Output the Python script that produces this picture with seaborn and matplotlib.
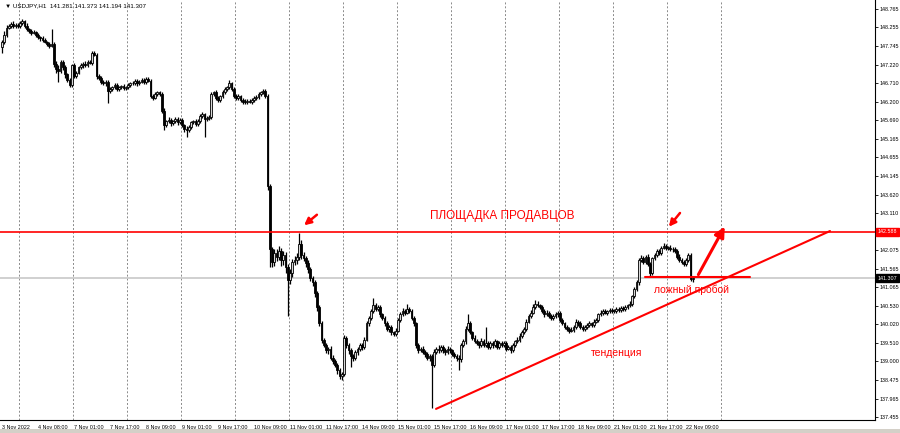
import numpy as np
import pandas as pd
import matplotlib
matplotlib.use('Agg')
import matplotlib.pyplot as plt
import matplotlib.transforms as mtransforms
import seaborn as sns

# USDJPY H1 closes, bar by bar (3 Nov 16:00 .. 22 Nov 12:00)
closes = [
    147.85, 148.05, 148.25, 148.30, 148.35, 148.28, 148.32, 148.30,
    148.38, 148.42, 148.30, 148.20, 148.15, 148.10, 148.12, 148.05,
    147.98, 147.95, 147.90, 147.85, 147.80, 147.75, 147.80, 147.25,
    147.10, 147.05, 147.30, 147.15, 146.95, 146.80, 146.65, 147.20,
    146.90, 147.00, 147.15, 147.20, 147.25, 147.20, 147.30, 147.28,
    147.55, 147.50, 146.90, 146.85, 146.75, 146.70, 146.75, 146.50,
    146.55, 146.60, 146.65, 146.55, 146.60, 146.62, 146.58, 146.60,
    146.65, 146.70, 146.72, 146.78, 146.70, 146.75, 146.80, 146.74,
    146.82, 146.78, 146.35, 146.30, 146.42, 146.45, 146.40, 145.95,
    145.55, 145.65, 145.70, 145.60, 145.65, 145.72, 145.62, 145.68,
    145.55, 145.45, 145.40, 145.50, 145.62, 145.65, 145.58, 145.66,
    145.80, 145.85, 145.72, 145.75, 145.78, 146.40, 146.45, 146.30,
    146.25, 146.35, 146.45, 146.55, 146.60, 146.70, 146.55, 146.35,
    146.30, 146.35, 146.25, 146.20, 146.18, 146.22, 146.20, 146.25,
    146.30, 146.32, 146.40, 146.45, 146.50, 146.35, 143.85, 142.10,
    141.75, 142.00, 141.90, 142.05, 141.80, 141.95, 141.60, 141.25,
    141.45, 141.75, 141.80, 141.90, 142.25, 141.95, 141.85, 141.72,
    141.55, 141.30, 141.20, 140.90, 140.50, 140.05, 139.60, 139.45,
    139.30, 139.35, 139.10, 139.00, 138.90, 138.75, 138.60, 138.65,
    139.65, 139.45, 139.30, 139.15, 139.10, 139.25, 139.35, 139.45,
    139.40, 139.60, 140.05, 140.20, 140.40, 140.55, 140.45, 140.50,
    140.30, 140.20, 140.05, 139.90, 139.95, 139.80, 139.75, 139.85,
    140.15, 140.30, 140.40, 140.35, 140.45, 140.40, 140.20, 140.05,
    139.45, 139.30, 139.35, 139.25, 139.20, 139.10, 139.15, 138.90,
    139.25, 139.35, 139.30, 139.40, 139.30, 139.25, 139.35, 139.30,
    139.20, 139.15, 139.10, 139.05, 139.45, 139.55, 139.90, 140.05,
    139.80, 139.65, 139.55, 139.50, 139.45, 139.55, 139.45, 139.50,
    139.40, 139.50, 139.45, 139.55, 139.40, 139.50, 139.45, 139.50,
    139.35, 139.40, 139.30, 139.45, 139.55, 139.60, 139.70, 139.80,
    139.90, 140.10, 140.25, 140.35, 140.50, 140.60, 140.55, 140.50,
    140.40, 140.30, 140.35, 140.25, 140.20, 140.25, 140.30, 140.35,
    140.15, 140.05, 139.95, 139.90, 139.85, 139.88, 139.95, 140.10,
    140.05, 139.95, 139.90, 139.95, 140.00, 140.05, 140.00, 140.10,
    140.15, 140.30, 140.35, 140.40, 140.35, 140.38, 140.42, 140.40,
    140.40, 140.45, 140.42, 140.48, 140.45, 140.50, 140.55, 140.60,
    140.80, 141.00, 141.20, 141.80, 141.85, 141.75, 141.90, 141.70,
    141.45, 141.85, 141.95, 142.05, 142.00, 142.15, 142.20, 142.15,
    142.15, 142.10, 142.12, 142.05, 141.90, 141.80, 141.75, 141.70,
    141.80, 141.95, 141.281, 141.307,
]
first_open = 147.70

# upper / lower wick beyond the body, per bar
wick_up = [
    .05, .10, .08, .06, .05, .08, .05, .06, .05, .06, .04, .08, .05, .06, .05, .04,
    .05, .04, .06, .05, .04, .05, .40, .06, .08, .10, .05, .06, .05, .04, .06, .05,
    .06, .05, .04, .08, .05, .06, .04, .05, .05, .06, .04, .05, .06, .05, .04, .06,
    .05, .04, .06, .05, .04, .05, .06, .04, .05, .04, .06, .05, .04, .06, .05, .04,
    .06, .05, .04, .06, .05, .04, .05, .06, .08, .05, .06, .04, .05, .06, .04, .05,
    .05, .04, .06, .05, .04, .05, .06, .05, .06, .05, .04, .05, .06, .05, .04, .06,
    .05, .04, .06, .05, .04, .10, .05, .04, .05, .06, .04, .05, .06, .04, .05, .06,
    .04, .05, .06, .04, .05, .04, .05, .06, .08, .10, .12, .15, .10, .12, .08, .10,
    .10, .08, .12, .10, .30, .10, .08, .06, .08, .06, .05, .06, .05, .06, .08, .05,
    .06, .05, .08, .06, .05, .06, .05, .06, .08, .06, .05, .06, .05, .06, .05, .06,
    .05, .06, .08, .05, .06, .20, .06, .05, .06, .05, .06, .08, .05, .06, .05, .06,
    .05, .06, .08, .05, .15, .06, .05, .06, .05, .06, .05, .06, .05, .06, .05, .06,
    .08, .05, .10, .06, .05, .08, .06, .05, .05, .06, .05, .06, .05, .06, .08, .25,
    .06, .05, .08, .06, .05, .10, .06, .45, .05, .06, .05, .08, .05, .06, .05, .06,
    .05, .06, .05, .06, .05, .06, .08, .06, .05, .06, .05, .06, .08, .10, .06, .05,
    .06, .05, .06, .05, .06, .05, .06, .05, .05, .06, .05, .06, .05, .06, .05, .06,
    .05, .06, .05, .06, .05, .06, .05, .06, .06, .05, .06, .05, .06, .05, .06, .05,
    .05, .06, .05, .06, .05, .06, .05, .06, .05, .06, .05, .06, .10, .06, .05, .08,
    .06, .05, .06, .05, .06, .05, .08, .06, .05, .06, .05, .06, .05, .06, .05, .06,
    .06, .05, .06, .066,
]
wick_dn = [
    .15, .05, .06, .05, .06, .05, .04, .05, .05, .06, .05, .04, .06, .05, .04, .06,
    .05, .06, .05, .04, .05, .06, .05, .08, .10, .30, .06, .08, .10, .06, .05, .06,
    .05, .06, .05, .04, .06, .05, .04, .05, .06, .05, .08, .05, .06, .05, .06, .35,
    .06, .05, .04, .06, .05, .04, .05, .06, .05, .06, .04, .05, .06, .05, .04, .05,
    .05, .04, .06, .05, .04, .06, .05, .06, .15, .06, .05, .08, .06, .05, .06, .05,
    .06, .10, .18, .05, .06, .05, .06, .05, .06, .05, .50, .06, .05, .06, .05, .06,
    .05, .06, .05, .04, .06, .05, .06, .05, .05, .06, .05, .06, .05, .06, .05, .06,
    .05, .06, .05, .04, .05, .06, .10, .50, .15, .10, .12, .10, .15, .12, .15, 1.00,
    .10, .12, .08, .10, .10, .12, .08, .10, .10, .08, .10, .12, .10, .08, .10, .06,
    .08, .10, .06, .08, .06, .10, .08, .12, .06, .08, .10, .30, .08, .06, .08, .06,
    .08, .06, .05, .06, .05, .06, .05, .06, .06, .05, .06, .05, .08, .06, .05, .06,
    .05, .06, .05, .06, .05, .06, .05, .06, .08, .06, .05, .06, .08, .06, .10, 1.20,
    .06, .05, .06, .05, .06, .08, .05, .06, .06, .05, .08, .30, .06, .05, .06, .05,
    .05, .06, .05, .06, .08, .05, .06, .05, .06, .05, .08, .05, .06, .05, .06, .05,
    .06, .05, .08, .05, .06, .05, .06, .05, .05, .06, .05, .06, .05, .06, .05, .06,
    .05, .06, .05, .06, .05, .06, .05, .06, .06, .05, .06, .05, .06, .05, .06, .05,
    .06, .05, .06, .05, .06, .05, .06, .05, .05, .06, .05, .06, .05, .06, .05, .06,
    .06, .05, .06, .05, .06, .05, .06, .05, .06, .05, .06, .08, .06, .05, .06, .05,
    .10, .06, .05, .06, .05, .06, .05, .06, .06, .05, .06, .05, .06, .05, .06, .05,
    .05, .06, .06, .087,
]

# axis labels
x_tick_pos = list(range(0, 305, 16))
x_tick_labels = ['3 Nov 2022', '4 Nov 08:00', '7 Nov 01:00', '7 Nov 17:00', '8 Nov 09:00',
                 '9 Nov 01:00', '9 Nov 17:00', '10 Nov 09:00', '11 Nov 01:00', '11 Nov 17:00',
                 '14 Nov 09:00', '15 Nov 01:00', '15 Nov 17:00', '16 Nov 09:00', '17 Nov 01:00',
                 '17 Nov 17:00', '18 Nov 09:00', '21 Nov 01:00', '21 Nov 17:00', '22 Nov 09:00']
y_ticks = [148.765, 148.255, 147.745, 147.220, 146.710, 146.200, 145.690, 145.165,
           144.655, 144.145, 143.620, 143.110, 142.600, 142.075, 141.565, 141.065,
           140.530, 140.020, 139.510, 139.000, 138.475, 137.965, 137.455]
day_lines = [7.5 + 24 * k for k in range(14)]

# levels / annotations
seller_level = 142.588
last_price = 141.307
trend_x = [192.9, 368.0]
trend_y = [137.68, 142.61]
fake_x = [285.8, 332.4]
fake_y = 141.34

df = pd.DataFrame({'close': closes, 'up': wick_up, 'dn': wick_dn})
df['idx'] = np.arange(len(df))
df['open'] = df['close'].shift(1).fillna(first_open)
df['top'] = df[['open', 'close']].max(axis=1)
df['bot'] = df[['open', 'close']].min(axis=1)
df['high'] = df['top'] + df['up']
df['low'] = df['bot'] - df['dn']
df['bull'] = df['close'] >= df['open']

sns.set_style('white')
plt.rcParams['font.family'] = ['Liberation Sans', 'DejaVu Sans']

fig = plt.figure(figsize=(9, 4.33), dpi=100)
ax = fig.add_axes([0, 13 / 433, 875 / 900, 420 / 433])

# day separators
for d in day_lines:
    ax.axvline(d, color='#8a8a8a', lw=0.7, ls=(0, (2, 2)), zorder=0)

# current price line
ax.axhline(last_price, color='#c8c8c8', lw=1.2, zorder=0)

# candles
ax.vlines(df['idx'], df['low'], df['high'], color='black', lw=0.9, zorder=2)
h = (df['top'] - df['bot']).clip(lower=0.015)
bull = df[df['bull']]
bear = df[~df['bull']]
ax.bar(bull['idx'], h[df['bull']], bottom=bull['bot'], width=0.8,
       color='#d8d8d8', edgecolor='black', linewidth=0.6, zorder=3)
ax.bar(bear['idx'], h[~df['bull']], bottom=bear['bot'], width=0.8,
       color='black', edgecolor='black', linewidth=0.6, zorder=3)

# red drawings
red = '#ff0000'
ax.axhline(seller_level, color=red, lw=1.2, zorder=4)
sns.lineplot(x=trend_x, y=trend_y, color=red, lw=1.5, ax=ax, zorder=4)
ax.plot(fake_x, [fake_y, fake_y], color=red, lw=1.5, zorder=4)
ax.annotate('', xy=(321.8, 142.80), xytext=(308.9, 141.335),
            arrowprops=dict(arrowstyle='-|>,head_length=0.6,head_width=0.3', color=red, lw=2.2), zorder=5)
ax.annotate('', xy=(295.6, 142.67), xytext=(302.1, 143.17),
            arrowprops=dict(arrowstyle='-|>,head_length=0.4,head_width=0.2', color=red, lw=1.8), zorder=5)
ax.annotate('', xy=(133.3, 142.72), xytext=(140.9, 143.11),
            arrowprops=dict(arrowstyle='-|>,head_length=0.4,head_width=0.2', color=red, lw=1.8), zorder=5)

ax.text(222.2, 143.03, 'ПЛОЩАДКА ПРОДАВЦОВ', color=red, fontsize=8.5,
        ha='center', va='center')
ax.text(306.4, 140.98, 'ложный пробой', color=red, fontsize=7.5,
        ha='center', va='center')
ax.text(273.1, 139.23, 'тенденция', color=red, fontsize=7.5,
        ha='center', va='center')

ax.set_xlim(-0.9, 388)
ax.set_ylim(137.372, 149.014)

# axes styling
for s in ['top', 'left']:
    ax.spines[s].set_visible(False)
for s in ['right', 'bottom']:
    ax.spines[s].set_color('black')
    ax.spines[s].set_linewidth(0.8)
ax.yaxis.tick_right()
ax.set_yticks(y_ticks)
ax.set_yticklabels([f'{v:.3f}' for v in y_ticks])
ax.set_xticks(x_tick_pos)
ax.set_xticklabels(x_tick_labels, ha='left')
ax.tick_params(axis='both', length=2.5, width=0.6, labelsize=3.9, pad=1, colors='black')
ax.set_xlabel('')
ax.set_ylabel('')

# price tags on the right scale
trans = mtransforms.blended_transform_factory(ax.transAxes, ax.transData)
ax.text(1.003, seller_level, '142.588', transform=trans, fontsize=3.9, color='white',
        va='center', ha='left', clip_on=False, zorder=6,
        bbox=dict(boxstyle='square,pad=0.3', facecolor=red, edgecolor=red))
ax.text(1.003, last_price, '141.307', transform=trans, fontsize=3.9, color='white',
        va='center', ha='left', clip_on=False, zorder=6,
        bbox=dict(boxstyle='square,pad=0.3', facecolor='black', edgecolor='black'))

# header
fig.text(5 / 900, 1 - 6 / 433, '▼ USDJPY,H1  141.281 141.373 141.194 141.307',
         fontsize=4.5, va='center', ha='left', color='black')

# bottom tab strip
fig.patches.append(plt.Rectangle((0, 0), 1, 4 / 433, transform=fig.transFigure,
                                 facecolor='#d4d0c8', edgecolor='none'))

fig.savefig('out.png', dpi=100)
